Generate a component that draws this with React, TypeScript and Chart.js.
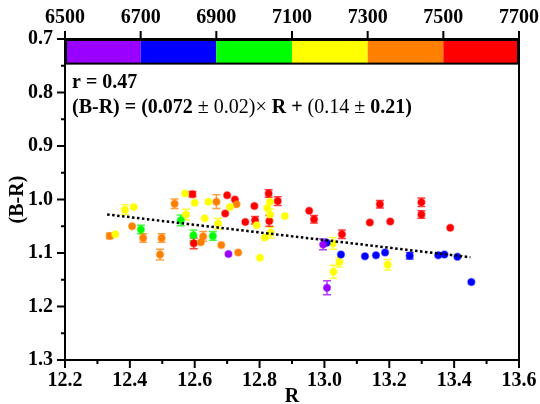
import React, { useEffect, useRef } from "react";
import { Chart, registerables } from "chart.js";

Chart.register(...registerables);

const FONT = "'Liberation Serif', 'Times New Roman', Times, 'DejaVu Serif', serif";

// Top colour bar (wavelength bands)
const bandEdges = [6500, 6700, 6900, 7100, 7300, 7500, 7700];
const bandColors = ["#9900FF", "#0000FF", "#00FF00", "#FFFF00", "#FF8000", "#FF0000"];

// Data per band: R, (B-R), error
const purpleR = [12.704, 12.996, 13.008];
const purpleBR = [1.102, 1.084, 1.165];
const purpleErr = [0, 0.01, 0.013];

const blueR = [13.007, 13.051, 13.125, 13.159, 13.187, 13.263, 13.351, 13.37, 13.41, 13.453];
const blueBR = [1.081, 1.103, 1.106, 1.104, 1.099, 1.105, 1.104, 1.103, 1.107, 1.154];
const blueErr = [0, 0, 0, 0, 0, 0.006, 0, 0, 0, 0];

const greenR = [12.434, 12.557, 12.596, 12.656];
const greenBR = [1.056, 1.039, 1.067, 1.068];
const greenErr = [0.008, 0.01, 0.01, 0.008];

const yellowR = [12.355, 12.385, 12.412, 12.57, 12.573, 12.6, 12.631, 12.642, 12.672, 12.709, 12.791, 12.801, 12.816, 12.824, 12.832, 12.832, 12.834, 12.878, 13.026, 13.046, 13.028, 13.195];
const yellowBR = [1.065, 1.019, 1.014, 0.989, 1.028, 1.006, 1.035, 1.004, 1.045, 1.014, 1.048, 1.109, 1.071, 1.016, 1.004, 1.028, 1.062, 1.031, 1.082, 1.117, 1.135, 1.122];
const yellowErr = [0, 0.009, 0, 0, 0.01, 0, 0, 0, 0.01, 0, 0, 0, 0, 0, 0, 0.01, 0.01, 0, 0.011, 0.009, 0.012, 0.01];

const orangeR = [12.338, 12.407, 12.441, 12.493, 12.498, 12.538, 12.619, 12.626, 12.667, 12.682, 12.729, 12.734];
const orangeBR = [1.068, 1.05, 1.072, 1.103, 1.072, 1.008, 1.08, 1.069, 1.004, 1.085, 1.009, 1.099];
const orangeErr = [0.005, 0, 0.008, 0.01, 0.008, 0.009, 0, 0.009, 0.013, 0, 0, 0];

const redR = [12.593, 12.597, 12.694, 12.7, 12.724, 12.756, 12.784, 12.786, 12.828, 12.83, 12.856, 12.953, 12.968, 13.054, 13.14, 13.171, 13.203, 13.299, 13.299, 13.388];
const redBR = [0.99, 1.082, 1.026, 0.992, 1.0, 1.042, 1.012, 1.039, 0.989, 1.04, 1.003, 1.021, 1.037, 1.065, 1.043, 1.009, 1.041, 1.005, 1.028, 1.053];
const redErr = [0.005, 0.01, 0, 0, 0, 0, 0, 0.007, 0.007, 0.01, 0.008, 0, 0.007, 0.008, 0, 0.007, 0, 0.008, 0.007, 0];

// Linear fit line endpoints
const fitR = [12.33, 13.45];
const fitBR = [1.028, 1.108];

const groups = [
  { r: purpleR, br: purpleBR, err: purpleErr, color: bandColors[0] },
  { r: blueR, br: blueBR, err: blueErr, color: bandColors[1] },
  { r: greenR, br: greenBR, err: greenErr, color: bandColors[2] },
  { r: yellowR, br: yellowBR, err: yellowErr, color: bandColors[3] },
  { r: orangeR, br: orangeBR, err: orangeErr, color: bandColors[4] },
  { r: redR, br: redBR, err: redErr, color: bandColors[5] },
];

function withAlpha(hex: string, a: number) {
  const n = parseInt(hex.slice(1), 16);
  return `rgba(${(n >> 16) & 255},${(n >> 8) & 255},${n & 255},${a})`;
}

const errorBarPlugin = {
  id: "errorBars",
  beforeDatasetsDraw(chart: any) {
    const ctx = chart.ctx;
    const xs = chart.scales.x;
    const ys = chart.scales.y;
    ctx.save();
    groups.forEach((g) => {
      ctx.strokeStyle = withAlpha(g.color, 0.75);
      ctx.lineWidth = 1.5;
      g.r.forEach((r, i) => {
        const e = g.err[i];
        if (!e) return;
        const px = xs.getPixelForValue(r);
        const p1 = ys.getPixelForValue(g.br[i] - e);
        const p2 = ys.getPixelForValue(g.br[i] + e);
        ctx.beginPath();
        ctx.moveTo(px, p1);
        ctx.lineTo(px, p2);
        ctx.moveTo(px - 4, p1);
        ctx.lineTo(px + 4, p1);
        ctx.moveTo(px - 4, p2);
        ctx.lineTo(px + 4, p2);
        ctx.stroke();
      });
    });
    ctx.restore();
  },
};

const framePlugin = {
  id: "frame",
  afterDraw(chart: any) {
    const ctx = chart.ctx;
    const { left, right, top, bottom } = chart.chartArea;
    const xs = chart.scales.x;
    const ys = chart.scales.y;
    const x2 = chart.scales.x2;
    ctx.save();
    // colour bar
    const barTop = ys.getPixelForValue(0.7);
    const barBot = ys.getPixelForValue(0.746);
    for (let i = 0; i < bandColors.length; i++) {
      const a = x2.getPixelForValue(bandEdges[i]);
      const b = x2.getPixelForValue(bandEdges[i + 1]);
      ctx.fillStyle = bandColors[i];
      ctx.fillRect(a, barTop, b - a, barBot - barTop);
    }
    ctx.strokeStyle = "#000";
    ctx.lineWidth = 2;
    ctx.strokeRect(left + 1, barTop + 1, right - left - 2, barBot - barTop - 1);
    // frame
    ctx.lineWidth = 2;
    ctx.strokeRect(left, top, right - left, bottom - top);
    // ticks
    ctx.lineWidth = 2;
    ctx.beginPath();
    for (let i = 0; i <= 14; i++) {
      const v = 12.2 + i * 0.1;
      const px = xs.getPixelForValue(v);
      const len = i % 2 === 0 ? 8 : 4;
      ctx.moveTo(px, bottom);
      ctx.lineTo(px, bottom + len);
    }
    for (let i = 0; i <= 12; i++) {
      const v = 0.7 + i * 0.05;
      const py = ys.getPixelForValue(v);
      const len = i % 2 === 0 ? 8 : 4;
      ctx.moveTo(left, py);
      ctx.lineTo(left - len, py);
    }
    // crossing ticks at corners
    ctx.moveTo(left - 8, top);
    ctx.lineTo(left + 4, top);
    ctx.moveTo(left - 8, bottom);
    ctx.lineTo(left + 4, bottom);
    for (let i = 0; i < bandEdges.length; i++) {
      const px = x2.getPixelForValue(bandEdges[i]);
      ctx.moveTo(px, top);
      ctx.lineTo(px, top - 8);
    }
    ctx.stroke();

    // top axis labels
    ctx.fillStyle = "#000";
    ctx.textAlign = "center";
    ctx.textBaseline = "alphabetic";
    ctx.font = `bold 20px ${FONT}`;
    bandEdges.forEach((w) => {
      ctx.fillText(String(w), x2.getPixelForValue(w), top - 16);
    });

    // annotation text
    ctx.textAlign = "left";
    const tx = left + 7;
    ctx.font = `bold 20px ${FONT}`;
    ctx.fillText("r = 0.47", tx, top + 49);
    const segs: [string, boolean][] = [
      ["(B-R) = (0.072 ", true],
      ["\u00B1 0.02)\u00D7 ", false],
      ["R + ", true],
      ["(0.14 \u00B1 ", false],
      ["0.21)", true],
    ];
    let cx = tx;
    segs.forEach(([s, b]) => {
      ctx.font = `${b ? "bold " : ""}20px ${FONT}`;
      ctx.fillText(s, cx, top + 74);
      cx += ctx.measureText(s).width;
    });
    ctx.restore();
  },
};

export default function App() {
  const ref = useRef<HTMLCanvasElement | null>(null);
  useEffect(() => {
    if (!ref.current) return;
    let chart: Chart | null = null;
    let cancelled = false;
    const build = () => {
      if (cancelled || !ref.current) return;
      const datasets: any[] = groups.map((g) => ({
        type: "scatter",
        data: g.r.map((r, i) => ({ x: r, y: g.br[i] })),
        backgroundColor: g.color,
        borderColor: withAlpha(g.color, 0.45),
        borderWidth: 1.5,
        pointRadius: 3.5,
        xAxisID: "x",
        yAxisID: "y",
      }));
      datasets.unshift({
        type: "line",
        data: fitR.map((r, i) => ({ x: r, y: fitBR[i] })),
        borderColor: "#000",
        borderWidth: 2.5,
        borderDash: [2.5, 2.5],
        pointRadius: 0,
        fill: false,
        xAxisID: "x",
        yAxisID: "y",
        order: -1,
      });
      const tickFont = { family: FONT, size: 20, weight: "bold" as const };
      const titleFontX = { family: FONT, size: 20, weight: "bold" as const, lineHeight: 0.7 };
      const noPadH = (s: any, h: number) => { s.height = h; s.paddingLeft = 0; s.paddingRight = 0; };
      chart = new Chart(ref.current, {
        type: "scatter",
        data: { datasets },
        options: {
          animation: false,
          responsive: false,
          layout: { padding: { left: 0, right: 21, top: 0, bottom: 0 } },
          plugins: { legend: { display: false }, tooltip: { enabled: false } },
          scales: {
            x: {
              type: "linear",
              position: "bottom",
              min: 12.2,
              max: 13.6,
              ticks: { stepSize: 0.2, color: "#000", font: tickFont, padding: 9, maxRotation: 0, callback: (v: any) => Number(v).toFixed(1) },
              grid: { display: false, drawTicks: false },
              border: { display: false },
              title: { display: true, text: "R", color: "#000", font: titleFontX, padding: 0 },
              afterFit: (s: any) => noPadH(s, 44),
            },
            x2: {
              type: "linear",
              position: "top",
              min: 6500,
              max: 7700,
              ticks: { display: false, stepSize: 200 },
              grid: { display: false, drawTicks: false },
              border: { display: false },
              afterFit: (s: any) => noPadH(s, 39),
            },
            y: {
              type: "linear",
              reverse: true,
              min: 0.7,
              max: 1.3,
              ticks: { stepSize: 0.1, color: "#000", font: tickFont, padding: 12, callback: (v: any) => Number(v).toFixed(1) },
              grid: { display: false, drawTicks: false },
              border: { display: false },
              title: { display: true, text: "(B-R)", color: "#000", font: tickFont, padding: 6 },
              afterFit: (s: any) => { s.width = 65; s.paddingTop = 0; s.paddingBottom = 0; },
            },
          },
        },
        plugins: [errorBarPlugin, framePlugin],
      });
    };
    const fonts: any = (document as any).fonts;
    if (fonts && fonts.load) {
      Promise.all([
        fonts.load(`bold 20px 'Liberation Serif'`),
        fonts.load(`20px 'Liberation Serif'`),
      ]).then(build, build);
    } else {
      build();
    }
    return () => {
      cancelled = true;
      if (chart) chart.destroy();
    };
  }, []);
  return (
    <div style={{ position: "fixed", left: 0, top: 0, width: 540, height: 404, background: "#fff" }}>
      <canvas ref={ref} width={540} height={404} style={{ display: "block" }} />
    </div>
  );
}
